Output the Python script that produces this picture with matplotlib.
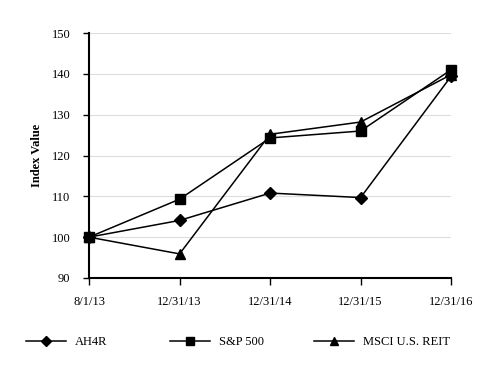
import matplotlib
matplotlib.use("Agg")
import matplotlib.pyplot as plt
from matplotlib.legend import Legend

dates = ["8/1/13", "12/31/13", "12/31/14", "12/31/15", "12/31/16"]
ah4r = [100, 104.1, 110.8, 109.7, 139.4]
sp500 = [100, 109.3, 124.3, 126.0, 141.0]
msci = [100, 95.9, 125.2, 128.2, 139.8]
yticks = [90, 100, 110, 120, 130, 140, 150]

plt.rcParams['font.family'] = ['Liberation Serif', 'DejaVu Serif']

fig = plt.figure(figsize=(4.84, 3.78), dpi=100)
ax = fig.add_axes([0.184, 0.2646, 0.748, 0.648])
x = list(range(len(dates)))
l1, = ax.plot(x, ah4r, color='black', lw=1.1, marker='D', ms=6.5, label='AH4R')
l2, = ax.plot(x, sp500, color='black', lw=1.1, marker='s', ms=6.5, label='S&P 500')
l3, = ax.plot(x, msci, color='black', lw=1.1, marker='^', ms=6.5, label='MSCI U.S. REIT')

ax.set_xlim(0, 4)
ax.set_ylim(90, 150)
ax.set_yticks(yticks)
ax.set_xticks(x)
ax.set_xticklabels(dates, fontsize=9)
ax.tick_params(axis='y', labelsize=9, length=4.5, width=1, direction='out', pad=9)
ax.tick_params(axis='x', length=5, width=1, direction='out', pad=8)
ax.grid(axis='y', color='#dddddd', lw=0.8)
ax.set_axisbelow(True)
for s in ['top', 'right']:
    ax.spines[s].set_visible(False)
ax.spines['left'].set_linewidth(1.5)
ax.spines['bottom'].set_linewidth(1.5)
for p in ax.lines[:3]:
    p.set_clip_on(False)
ax.set_ylabel('Index Value', fontsize=9, fontweight='bold', labelpad=6)

for h, xpos in zip([l1, l2, l3], [26, 170, 314]):
    leg = Legend(fig, [h], [h.get_label()], loc='center left',
                 bbox_to_anchor=(xpos / 484, 1 - 342 / 378), bbox_transform=fig.transFigure,
                 frameon=False, fontsize=9, handlelength=3.2, handletextpad=0.7,
                 markerscale=0.8, borderpad=0, borderaxespad=0)
    fig.add_artist(leg)

fig.savefig('out.png', dpi=100)
